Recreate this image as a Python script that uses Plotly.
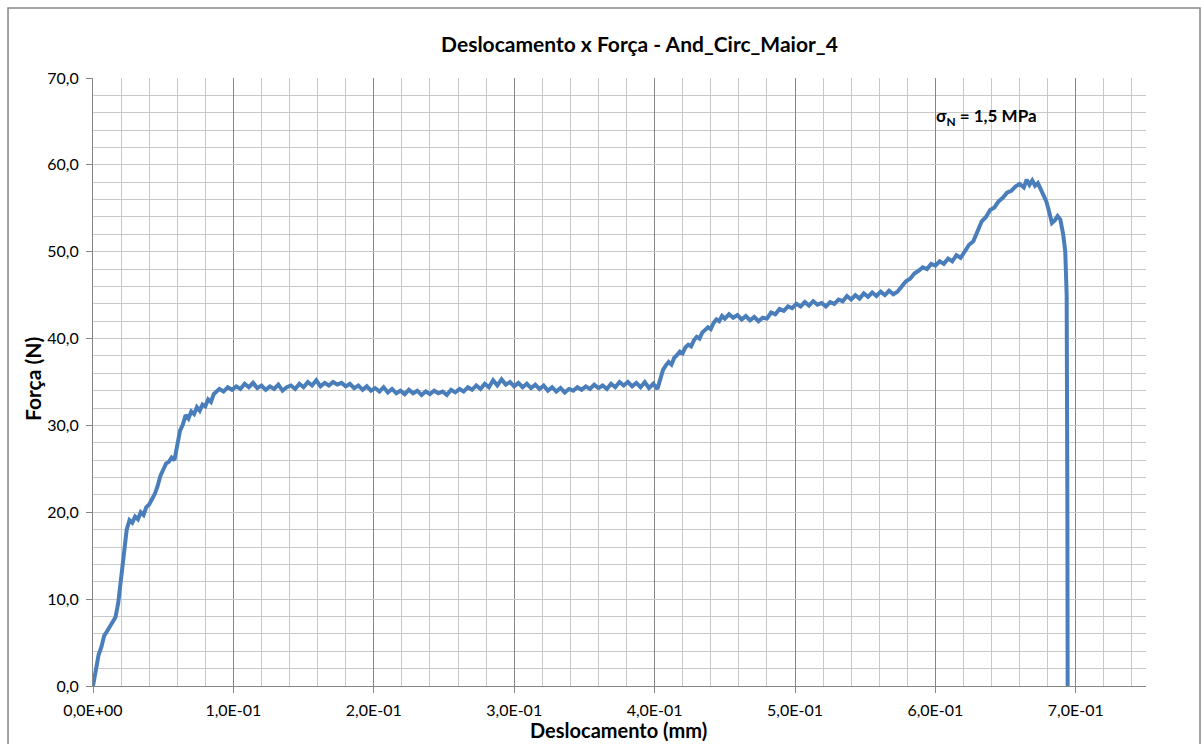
import plotly.graph_objects as go

# Data
deslocamento_mm = [
    0.000, 0.002, 0.004, 0.006, 0.008, 0.010, 0.012, 0.014, 0.016, 0.018,
    0.020, 0.022, 0.024, 0.026, 0.028, 0.030, 0.032, 0.034, 0.036, 0.038,
    0.040, 0.042, 0.044, 0.046, 0.048, 0.050, 0.052, 0.054, 0.056, 0.058,
    0.060, 0.062, 0.064, 0.066, 0.068, 0.070, 0.072, 0.074, 0.076, 0.078,
    0.080, 0.082, 0.084, 0.086, 0.088, 0.090, 0.093, 0.096, 0.099, 0.102,
    0.105, 0.108, 0.111, 0.114, 0.117, 0.120, 0.123, 0.126, 0.129, 0.132,
    0.135, 0.138, 0.141, 0.144, 0.147, 0.150, 0.153, 0.156, 0.159, 0.162,
    0.165, 0.168, 0.171, 0.174, 0.177, 0.180, 0.183, 0.186, 0.189, 0.192,
    0.195, 0.198, 0.201, 0.204, 0.207, 0.210, 0.213, 0.216, 0.219, 0.222,
    0.225, 0.228, 0.231, 0.234, 0.237, 0.240, 0.243, 0.246, 0.249, 0.252,
    0.255, 0.258, 0.261, 0.264, 0.267, 0.270, 0.273, 0.276, 0.279, 0.282,
    0.285, 0.288, 0.291, 0.294, 0.297, 0.300, 0.303, 0.306, 0.309, 0.312,
    0.315, 0.318, 0.321, 0.324, 0.327, 0.330, 0.333, 0.336, 0.339, 0.342,
    0.345, 0.348, 0.351, 0.354, 0.357, 0.360, 0.363, 0.366, 0.369, 0.372,
    0.375, 0.378, 0.381, 0.384, 0.387, 0.390, 0.393, 0.396, 0.399, 0.402,
    0.404, 0.406, 0.408, 0.410, 0.412, 0.414, 0.416, 0.418, 0.420, 0.422,
    0.424, 0.426, 0.428, 0.430, 0.432, 0.434, 0.436, 0.438, 0.440, 0.442,
    0.444, 0.446, 0.448, 0.450, 0.453, 0.456, 0.459, 0.462, 0.465, 0.468,
    0.471, 0.474, 0.477, 0.480, 0.483, 0.486, 0.489, 0.492, 0.495, 0.498,
    0.501, 0.504, 0.507, 0.510, 0.513, 0.516, 0.519, 0.522, 0.525, 0.528,
    0.531, 0.534, 0.537, 0.540, 0.543, 0.546, 0.549, 0.552, 0.555, 0.558,
    0.561, 0.564, 0.567, 0.570, 0.573, 0.576, 0.579, 0.582, 0.585, 0.588,
    0.591, 0.594, 0.597, 0.600, 0.603, 0.606, 0.609, 0.612, 0.615, 0.618,
    0.621, 0.624, 0.627, 0.630, 0.633, 0.636, 0.639, 0.642, 0.645, 0.648,
    0.651, 0.654, 0.657, 0.660, 0.663, 0.665, 0.667, 0.669, 0.671, 0.673,
    0.675, 0.677, 0.679, 0.681, 0.683, 0.685, 0.687, 0.689, 0.691, 0.6925,
    0.6935, 0.6940, 0.6942,
]
forca_n = [
    0.0, 2.0, 3.6, 4.5, 5.8, 6.3, 6.9, 7.3, 7.9, 9.6,
    12.0, 15.2, 18.0, 19.1, 18.8, 19.5, 19.2, 20.0, 19.7, 20.6,
    20.9, 21.5, 22.1, 23.0, 24.2, 24.9, 25.6, 25.8, 26.3, 26.0,
    27.5, 29.4, 30.1, 31.2, 30.8, 31.6, 31.3, 32.1, 31.7, 32.4,
    32.2, 33.0, 32.7, 33.6, 33.9, 34.2, 33.9, 34.4, 34.1, 34.5,
    34.2, 34.8, 34.4, 34.9, 34.3, 34.6, 34.1, 34.5, 34.2, 34.7,
    34.0, 34.4, 34.6, 34.2, 34.8, 34.4, 35.0, 34.6, 35.2, 34.5,
    34.9, 34.6, 35.0, 34.7, 34.9, 34.5, 34.8, 34.3, 34.6, 34.1,
    34.5, 34.0, 34.3, 33.9, 34.4, 33.8, 34.2, 33.7, 34.0, 33.6,
    34.1, 33.7, 34.0, 33.5, 33.9, 33.6, 34.0, 33.7, 33.9, 33.5,
    34.1, 33.8, 34.2, 33.9, 34.4, 34.1, 34.6, 34.2, 34.8, 34.4,
    35.2, 34.6, 35.3, 34.7, 35.0, 34.5, 34.9, 34.4, 34.8, 34.3,
    34.7, 34.2, 34.6, 34.0, 34.4, 33.9, 34.3, 33.8, 34.2, 34.0,
    34.4, 34.1, 34.5, 34.2, 34.7, 34.3, 34.6, 34.2, 34.8, 34.4,
    35.0, 34.6, 35.0, 34.5, 34.9, 34.4, 35.0, 34.3, 34.8, 34.2,
    35.3, 36.4, 36.9, 37.3, 37.0, 37.8, 38.1, 38.5, 38.3, 39.0,
    39.3, 39.1, 39.8, 40.2, 40.0, 40.7, 41.0, 41.3, 41.1, 41.8,
    42.2, 42.0, 42.6, 42.3, 42.8, 42.4, 42.7, 42.2, 42.6, 42.1,
    42.5, 42.0, 42.4, 42.3, 43.0, 42.8, 43.4, 43.2, 43.7, 43.5,
    44.0, 43.7, 44.2, 43.8, 44.3, 43.9, 44.1, 43.7, 44.2, 44.0,
    44.5, 44.3, 44.9, 44.5, 45.0, 44.6, 45.2, 44.8, 45.3, 44.9,
    45.4, 45.0, 45.5, 45.1, 45.4, 46.0, 46.6, 46.9, 47.5, 47.8,
    48.2, 48.0, 48.6, 48.4, 48.9, 48.6, 49.2, 48.9, 49.6, 49.3,
    50.0, 50.8, 51.2, 52.4, 53.5, 54.0, 54.8, 55.1, 55.8, 56.2,
    56.8, 57.0, 57.5, 57.8, 57.4, 58.3, 57.7, 58.2, 57.6, 57.9,
    57.2, 56.6, 55.8, 54.6, 53.3, 53.6, 54.1, 53.7, 52.0, 50.0,
    45.0, 20.0, 0.0,
]

x_tick_vals = [0.0, 0.1, 0.2, 0.3, 0.4, 0.5, 0.6, 0.7]
x_tick_text = ["0,0E+00", "1,0E-01", "2,0E-01", "3,0E-01", "4,0E-01",
               "5,0E-01", "6,0E-01", "7,0E-01"]
y_tick_vals = [0, 10, 20, 30, 40, 50, 60, 70]
y_tick_text = ["0,0", "10,0", "20,0", "30,0", "40,0", "50,0", "60,0", "70,0"]

FONT = "Lato"

fig = go.Figure()
fig.add_trace(go.Scatter(
    x=deslocamento_mm, y=forca_n, mode="lines",
    line=dict(color="#4A7EBB", width=4),
    showlegend=False, hoverinfo="x+y",
))

fig.update_layout(
    width=1202, height=744,
    margin=dict(l=93, r=56, t=78, b=58),
    paper_bgcolor="white", plot_bgcolor="white",
    font=dict(family=FONT, color="#000000"),
    title=dict(text="<b>Deslocamento x Força - And_Circ_Maior_4</b>",
               x=0.532, xanchor="center", y=0.94, yanchor="middle",
               font=dict(size=21, family=FONT, color="#000000")),
)

fig.update_xaxes(
    range=[0, 0.75], automargin=False,
    tickvals=x_tick_vals, ticktext=x_tick_text,
    tickfont=dict(size=16, family=FONT, color="#000000"),
    ticks="outside", ticklen=6, tickcolor="#868686",
    ticklabelstandoff=4,
    showline=True, linecolor="#868686", linewidth=1,
    showgrid=True, gridcolor="#868686", gridwidth=1,
    minor=dict(dtick=0.02, showgrid=True, gridcolor="#C8C8C8", gridwidth=1),
    zeroline=False,
)
fig.update_yaxes(
    range=[0, 70], automargin=False,
    tickvals=y_tick_vals, ticktext=y_tick_text,
    tickfont=dict(size=16, family=FONT, color="#000000"),
    ticks="outside", ticklen=6, tickcolor="#868686",
    ticklabelstandoff=4,
    showline=True, linecolor="#868686", linewidth=1,
    showgrid=True, gridcolor="#C8C8C8", gridwidth=1,
    minor=dict(dtick=2, showgrid=True, gridcolor="#C8C8C8", gridwidth=1),
    zeroline=False,
)

# axis titles
fig.add_annotation(
    x=0.499, y=-0.0725, xref="paper", yref="paper",
    text="<b>Deslocamento (mm)</b>", showarrow=False,
    xanchor="center", yanchor="middle",
    font=dict(size=20, family=FONT, color="#000000"),
)
fig.add_annotation(
    x=-0.057, y=0.505, xref="paper", yref="paper",
    text="<b>Força (N)</b>", showarrow=False, textangle=-90,
    xanchor="center", yanchor="middle",
    font=dict(size=21, family=FONT, color="#000000"),
)

fig.add_annotation(
    x=0.599, y=65.5, xref="x", yref="y",
    text="<b>σ<sub>N</sub> = 1,5 MPa</b>", showarrow=False,
    xanchor="left", yanchor="middle",
    font=dict(size=17, family=FONT, color="#000000"),
)

# outer chart border
fig.add_shape(type="rect", xref="paper", yref="paper",
              x0=-0.0807, x1=1.0513, y0=-0.12, y1=1.1151,
              line=dict(color="#868686", width=1.5), layer="below")

fig.write_html("out.html")
